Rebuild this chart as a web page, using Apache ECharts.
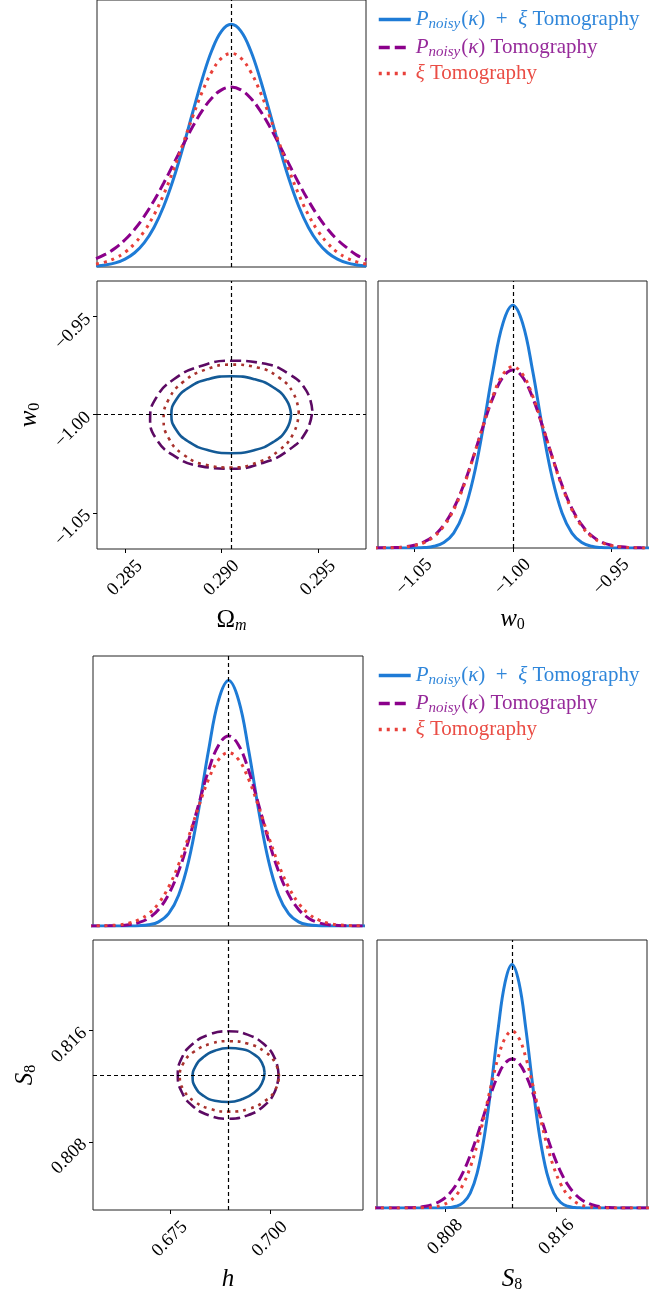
<!DOCTYPE html>
<html>
<head>
<meta charset="utf-8">
<title>Corner plots</title>
<script src="https://cdn.jsdelivr.net/npm/echarts@6/dist/echarts.min.js"></script>
<style>
    html, body { margin: 0; padding: 0; background: #fff; }
    #chart-box { width: 668px; height: 1294px; }
</style>
</head>
<body>
<div id="chart-box"></div>
<script>
// ---- values ----
const seriesNames = ["Pnoisy(κ) + ξ Tomography", "Pnoisy(κ) Tomography", "ξ Tomography"];

const truthOm = 0.2905, truthW0 = -1.0, truthH = 0.6897, truthS8 = 0.8128;

const omTicks = [0.285, 0.29, 0.295];
const w0Ticks = [-1.05, -1.0, -0.95];
const hTicks = [0.675, 0.7];
const s8Ticks = [0.808, 0.816];

// 1D marginals (height as fraction of the panel)
const omX = [0.2835,0.284,0.2845,0.285,0.2855,0.286,0.2865,0.287,0.2875,0.288,0.2885,0.289,0.2895,0.29,0.2905,0.291,0.2915,0.292,0.2925,0.293,0.2935,0.294,0.2945,0.295,0.2955,0.296,0.2965,0.297,0.2975];
const omBlue = [0.0035,0.0076,0.0153,0.0295,0.0534,0.0915,0.1482,0.2267,0.3276,0.4475,0.5776,0.7043,0.8116,0.8836,0.909,0.8836,0.8116,0.7043,0.5776,0.4475,0.3276,0.2267,0.1482,0.0915,0.0534,0.0295,0.0153,0.0076,0.0035];
const omPurple = [0.0316,0.0482,0.0712,0.102,0.1415,0.1904,0.2482,0.3137,0.3842,0.4562,0.525,0.5856,0.6332,0.6636,0.674,0.6636,0.6332,0.5856,0.525,0.4562,0.3842,0.3137,0.2482,0.1904,0.1415,0.102,0.0712,0.0445,0.027];
const omRed = [0.0106,0.0192,0.0333,0.0554,0.0881,0.1339,0.1948,0.2713,0.3615,0.4608,0.562,0.6559,0.7324,0.7826,0.8,0.7826,0.7324,0.6559,0.562,0.4608,0.3615,0.2713,0.1948,0.1339,0.0881,0.0554,0.0333,0.0192,0.0106];

const w0X = [-1.07,-1.065,-1.06,-1.055,-1.05,-1.045,-1.04,-1.035,-1.03,-1.025,-1.02,-1.015,-1.01,-1.005,-1.0,-0.995,-0.99,-0.985,-0.98,-0.975,-0.97,-0.965,-0.96,-0.955,-0.95,-0.945,-0.94,-0.935,-0.93];
const w0Blue = [0,0,0,0.0001,0.0004,0.0017,0.0064,0.0204,0.0558,0.131,0.2631,0.4525,0.6667,0.8412,0.909,0.8412,0.6667,0.4525,0.2631,0.131,0.0558,0.0204,0.0064,0.0017,0.0004,0.0001,0,0,0];
const w0Purple = [0.0002,0.0006,0.0016,0.0043,0.0102,0.0226,0.046,0.0862,0.1483,0.2348,0.3419,0.458,0.5643,0.6397,0.667,0.6397,0.5643,0.458,0.3419,0.2348,0.1483,0.0862,0.046,0.0226,0.0102,0.0043,0.0016,0.0006,0.0002];
const w0Red = [0.0001,0.0005,0.0013,0.0036,0.009,0.0204,0.0426,0.0816,0.1431,0.2302,0.3399,0.4601,0.5711,0.6503,0.679,0.6503,0.5711,0.4601,0.3399,0.2302,0.1431,0.0816,0.0426,0.0204,0.009,0.0036,0.0013,0.0005,0.0001];

const hX = [0.6547,0.6572,0.6597,0.6622,0.6647,0.6672,0.6697,0.6722,0.6747,0.6772,0.6797,0.6822,0.6847,0.6872,0.6897,0.6922,0.6947,0.6972,0.6997,0.7022,0.7047,0.7072,0.7097,0.7122,0.7147,0.7172,0.7197,0.7222,0.7247];
const hBlue = [0,0,0,0,0.0002,0.0011,0.0044,0.0155,0.0455,0.1136,0.2403,0.43,0.6518,0.8365,0.909,0.8365,0.6518,0.43,0.2403,0.1136,0.0455,0.0155,0.0044,0.0011,0.0002,0,0,0,0];
const hPurple = [0,0.0001,0.0005,0.0017,0.0048,0.0124,0.029,0.0613,0.1171,0.2026,0.3173,0.4496,0.5768,0.6698,0.704,0.6698,0.5768,0.4496,0.3173,0.2026,0.1171,0.0613,0.029,0.0124,0.0048,0.0017,0.0005,0.0001,0];
const hRed = [0.0002,0.0006,0.0016,0.0042,0.0101,0.0223,0.0451,0.0841,0.1443,0.2276,0.3306,0.442,0.5438,0.6159,0.642,0.6159,0.5438,0.442,0.3306,0.2276,0.1443,0.0841,0.0451,0.0223,0.0101,0.0042,0.0016,0.0006,0.0002];

const s8X = [0.8028,0.8033,0.8038,0.8043,0.8048,0.8053,0.8058,0.8063,0.8068,0.8073,0.8078,0.8083,0.8088,0.8093,0.8098,0.8103,0.8108,0.8113,0.8118,0.8123,0.8128,0.8133,0.8138,0.8143,0.8148,0.8153,0.8158,0.8163,0.8168,0.8173,0.8178,0.8183,0.8188,0.8193,0.8198,0.8203,0.8208,0.8213,0.8218,0.8223,0.8228];
const s8Blue = [0,0,0,0,0,0,0,0,0,0.0001,0.0004,0.0017,0.0064,0.0204,0.0558,0.131,0.2631,0.4525,0.6667,0.8412,0.909,0.8412,0.6667,0.4525,0.2631,0.131,0.0558,0.0204,0.0064,0.0017,0.0004,0.0001,0,0,0,0,0,0,0,0,0];
const s8Purple = [0,0,0,0.0001,0.0003,0.0008,0.0019,0.0042,0.0087,0.0169,0.0309,0.0535,0.0875,0.1349,0.1965,0.27,0.3502,0.4287,0.4953,0.5402,0.556,0.5402,0.4953,0.4287,0.3502,0.27,0.1965,0.1349,0.0875,0.0535,0.0309,0.0169,0.0087,0.0042,0.0019,0.0008,0.0003,0.0001,0,0,0];
const s8Red = [0,0,0,0,0,0.0001,0.0002,0.0007,0.0018,0.0047,0.0111,0.0242,0.0484,0.0893,0.1519,0.2379,0.3435,0.4571,0.5605,0.6336,0.66,0.6336,0.5605,0.4571,0.3435,0.2379,0.1519,0.0893,0.0484,0.0242,0.0111,0.0047,0.0018,0.0007,0.0002,0.0001,0,0,0,0,0];

// 2D contours
const omW0Blue = [[0.2936,-1.0],[0.29336,-0.9925],[0.29269,-0.98614],[0.29169,-0.98189],[0.2905,-0.9804],[0.28931,-0.98189],[0.28831,-0.98614],[0.28764,-0.9925],[0.2874,-1.0],[0.28764,-1.0075],[0.28831,-1.01386],[0.28931,-1.01811],[0.2905,-1.0196],[0.29169,-1.01811],[0.29269,-1.01386],[0.29336,-1.0075],[0.2936,-1.0]];
const omW0Purple = [[0.2947,-0.998],[0.29438,-0.98763],[0.29347,-0.97914],[0.29211,-0.97382],[0.2905,-0.9725],[0.28889,-0.97536],[0.28753,-0.98196],[0.28662,-0.99133],[0.2863,-1.002],[0.28662,-1.01237],[0.28753,-1.02086],[0.28889,-1.02618],[0.2905,-1.0275],[0.29211,-1.02464],[0.29347,-1.01804],[0.29438,-1.00867],[0.2947,-0.998]];
const omW0Red = [[0.294,-0.9992],[0.29373,-0.98929],[0.29298,-0.98111],[0.29184,-0.97592],[0.2905,-0.9745],[0.28916,-0.97707],[0.28802,-0.98324],[0.28727,-0.99206],[0.287,-1.0022],[0.28727,-1.01211],[0.28802,-1.02029],[0.28916,-1.02548],[0.2905,-1.0269],[0.29184,-1.02433],[0.29298,-1.01817],[0.29373,-1.00934],[0.294,-0.9992]];

const hS8Blue = [[0.6987,0.81295],[0.69802,0.81368],[0.69606,0.81428],[0.69314,0.81465],[0.6897,0.81474],[0.68626,0.81454],[0.68334,0.81407],[0.68138,0.8134],[0.6807,0.81265],[0.68138,0.81192],[0.68334,0.81132],[0.68626,0.81095],[0.6897,0.81086],[0.69314,0.81107],[0.69606,0.81153],[0.69802,0.8122],[0.6987,0.81295]];
const hS8Purple = [[0.7022,0.8128],[0.70124,0.814],[0.69851,0.81502],[0.69442,0.8157],[0.6896,0.81594],[0.68478,0.8157],[0.68069,0.81502],[0.67796,0.814],[0.677,0.8128],[0.67796,0.8116],[0.68069,0.81058],[0.68478,0.8099],[0.6896,0.80966],[0.69442,0.8099],[0.69851,0.81058],[0.70124,0.8116],[0.7022,0.8128]];
const hS8Red = [[0.7023,0.8127],[0.70136,0.81367],[0.69867,0.81449],[0.69465,0.81504],[0.6899,0.81523],[0.68516,0.81504],[0.68113,0.81449],[0.67844,0.81367],[0.6775,0.8127],[0.67844,0.81173],[0.68113,0.81091],[0.68516,0.81036],[0.6899,0.81017],[0.69465,0.81036],[0.69867,0.81091],[0.70136,0.81173],[0.7023,0.8127]];

// ---- styles ----
const FONT = "Liberation Serif";
const lineColors = ["#1e7bd6", "#8b008b", "#e8403a"];
const textColors = ["#2f86da", "#962a9a", "#ea4d45"];
const contourColors = ["#135a96", "#5c0a63", "#a8322d"];
const dashTypes = ["solid", [11, 5], [3, 5]];

const chart = echarts.init(document.getElementById("chart-box"));

const grids = [
    {left: 97, top: 0, width: 269, height: 267},    // Omega_m 1D
    {left: 97, top: 281, width: 269, height: 268},  // w0 vs Omega_m
    {left: 378, top: 281, width: 269, height: 267}, // w0 1D
    {left: 93, top: 656, width: 270, height: 270},  // h 1D
    {left: 93, top: 940, width: 270, height: 270},  // S8 vs h
    {left: 377, top: 940, width: 270, height: 270}  // S8 1D
].map(g => Object.assign({show: true, borderColor: "#222", borderWidth: 1, backgroundColor: "transparent"}, g));

const fmt = d => v => (v < 0 ? "\u2212" : "") + Math.abs(v).toFixed(d);

const nameRich = {
    it: {fontFamily: FONT, fontSize: 25, fontStyle: "italic", color: "#000"},
    up: {fontFamily: FONT, fontSize: 25, color: "#000"},
    si: {fontFamily: FONT, fontSize: 16, fontStyle: "italic", color: "#000", padding: [12, 0, 0, 0]},
    su: {fontFamily: FONT, fontSize: 16, color: "#000", padding: [12, 0, 0, 0]}
};

function blankAxis(gi, range) {
    return {type: "value", gridIndex: gi, min: range[0], max: range[1],
        axisLine: {show: false}, axisTick: {show: false}, axisLabel: {show: false}, splitLine: {show: false}};
}

function tickAxis(gi, range, ticks, digits, name, isY) {
    return {
        type: "value", gridIndex: gi, min: range[0], max: range[1],
        name: name, nameLocation: "middle", nameGap: isY ? 54 : 57,
        nameTextStyle: {rich: nameRich},
        axisLine: {show: false},
        axisTick: {show: true, inside: false, length: 4, customValues: ticks, lineStyle: {color: "#000", width: 1}},
        axisLabel: {
            show: true, customValues: ticks, rotate: 45, formatter: fmt(digits),
            fontFamily: FONT, fontSize: 18.5, color: "#000",
            margin: isY ? 9 : 29,
            align: isY ? "right" : "center", verticalAlign: "middle"
        },
        splitLine: {show: false}
    };
}

const omRange = [0.28355, 0.29748];
const w0Range = [-1.0684, -0.9319];
const hRange = [0.6558, 0.7233];
const s8Range = [0.8031, 0.8225];
const unit = [0, 1];

const xAxes = [
    blankAxis(0, omRange),
    tickAxis(1, omRange, omTicks, 3, "{up|Ω}{si|m}", false),
    tickAxis(2, w0Range, w0Ticks, 2, "{it|w}{su|0}", false),
    blankAxis(3, hRange),
    tickAxis(4, hRange, hTicks, 3, "{it|h}", false),
    tickAxis(5, s8Range, s8Ticks, 3, "{it|S}{su|8}", false)
];
const yAxes = [
    Object.assign(blankAxis(0, unit), {show: false}),
    tickAxis(1, w0Range, w0Ticks, 2, "{it|w}{su|0}", true),
    Object.assign(blankAxis(2, unit), {show: false}),
    Object.assign(blankAxis(3, unit), {show: false}),
    tickAxis(4, s8Range, s8Ticks, 3, "{it|S}{su|8}", true),
    Object.assign(blankAxis(5, unit), {show: false})
];

const series = [];

function curve(gi, xs, ys, k) {
    series.push({
        name: seriesNames[k], type: "line", xAxisIndex: gi, yAxisIndex: gi,
        data: xs.map((x, i) => [x, ys[i]]),
        smooth: 0.4, symbol: "none", clip: true, z: 2,
        lineStyle: {color: lineColors[k], width: 3, type: dashTypes[k], cap: "butt"},
        itemStyle: {color: lineColors[k]}
    });
}

function contour(gi, pts, k) {
    series.push({
        name: seriesNames[k], type: "line", xAxisIndex: gi, yAxisIndex: gi,
        data: pts, smooth: true, symbol: "none", clip: true, z: 2,
        lineStyle: {color: contourColors[k], width: 2.6, type: dashTypes[k], cap: "butt"},
        itemStyle: {color: contourColors[k]}
    });
}

function truth(gi, marks) {
    series.push({
        name: "truth", type: "line", xAxisIndex: gi, yAxisIndex: gi, data: [], z: 5,
        markLine: {
            symbol: "none", silent: true, precision: 8, label: {show: false}, animation: false,
            lineStyle: {color: "#000", width: 1.2, type: [4, 3]},
            data: marks
        }
    });
}

// 1D curves first so legend takes their colours
curve(0, omX, omBlue, 0); curve(0, omX, omPurple, 1); curve(0, omX, omRed, 2);
curve(2, w0X, w0Blue, 0); curve(2, w0X, w0Purple, 1); curve(2, w0X, w0Red, 2);
curve(3, hX, hBlue, 0); curve(3, hX, hPurple, 1); curve(3, hX, hRed, 2);
curve(5, s8X, s8Blue, 0); curve(5, s8X, s8Purple, 1); curve(5, s8X, s8Red, 2);

contour(1, omW0Blue, 0); contour(1, omW0Purple, 1); contour(1, omW0Red, 2);
contour(4, hS8Blue, 0); contour(4, hS8Purple, 1); contour(4, hS8Red, 2);

truth(0, [{xAxis: truthOm}]);
truth(1, [{xAxis: truthOm}, {yAxis: truthW0}]);
truth(2, [{xAxis: truthW0}]);
truth(3, [{xAxis: truthH}]);
truth(4, [{xAxis: truthH}, {yAxis: truthS8}]);
truth(5, [{xAxis: truthS8}]);

// legend text with math-style pieces
const legendRich = {};
textColors.forEach((c, k) => {
    legendRich["t" + k] = {color: c, fontFamily: FONT, fontSize: 21, lineHeight: 24};
    legendRich["i" + k] = {color: c, fontFamily: FONT, fontSize: 21, fontStyle: "italic", lineHeight: 24};
    legendRich["s" + k] = {color: c, fontFamily: FONT, fontSize: 15, fontStyle: "italic", lineHeight: 14, padding: [10, 1, 0, 0]};
});
const legendText = [
    "{i0|P}{s0|noisy}{t0|(}{i0|κ}{t0|)\u2002+\u2002}{i0|ξ}{t0| Tomography}",
    "{i1|P}{s1|noisy}{t1|(}{i1|κ}{t1|) Tomography}",
    "{i2|ξ}{t2| Tomography}"
];

const legends = [2, 658].map(top => ({
    orient: "vertical", left: 372, top: top,
    itemWidth: 32, itemHeight: 12, itemGap: 3,
    selectedMode: false,
    itemStyle: {opacity: 0},
    lineStyle: {width: 3.5},
    data: seriesNames,
    formatter: n => legendText[seriesNames.indexOf(n)],
    textStyle: {fontFamily: FONT, fontSize: 21, rich: legendRich}
}));

chart.setOption({
    animation: false,
    backgroundColor: "#fff",
    legend: legends,
    grid: grids,
    xAxis: xAxes,
    yAxis: yAxes,
    series: series
});
</script>
</body>
</html>
